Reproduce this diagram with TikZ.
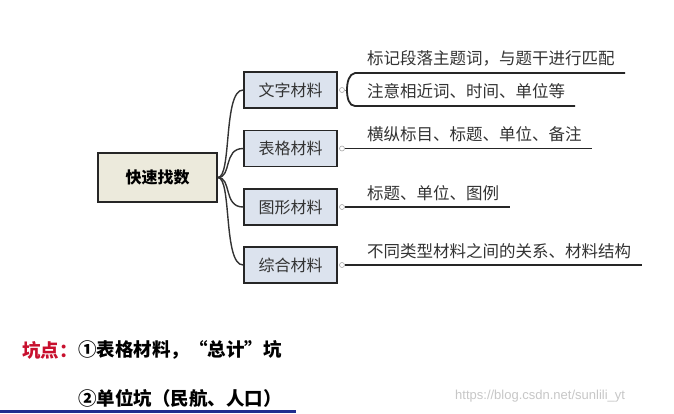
\documentclass[tikz,border=0pt]{standalone}
\usepackage{fontspec}
\setmainfont{Noto Sans CJK SC}
\newfontfamily\wmfont{Liberation Sans}
\begin{document}
\begin{tikzpicture}[x=1pt,y=-1pt,
  matbox/.style={draw=black!85,line width=1.8pt,fill=boxblue,minimum width=93pt,minimum height=36pt,inner sep=0pt,font=\fontsize{16}{18}\selectfont,text=black!80},
  rootbox/.style={draw=black!85,line width=1.8pt,fill=rootbeige,minimum width=119pt,minimum height=49pt,inner sep=0pt,font=\fontsize{16}{18}\selectfont\bfseries},
  leaf/.style={anchor=west,inner sep=0pt,font=\fontsize{16.5}{18}\selectfont,text=black!80},
  branch/.style={line width=1.4pt,draw=black!80},
  uline/.style={line width=1.8pt,draw=black!85},
  dot/.style={circle,draw=black!35,fill=white,line width=0.6pt,minimum size=5pt,inner sep=0pt},
  note/.style={anchor=west,inner sep=0pt,font=\fontsize{18.5}{20}\selectfont\bfseries}
]
\definecolor{boxblue}{HTML}{DCE3EE}
\definecolor{rootbeige}{HTML}{ECEADC}
\definecolor{pitred}{HTML}{C8102E}
\definecolor{slideblue}{HTML}{1F2F8F}
\useasboundingbox (0,0) rectangle (674,413);
\fill[white] (0,0) rectangle (674,413);

% root
\node[rootbox] (root) at (157.5,177.5) {快速找数};

% material boxes
\node[matbox] (m1) at (290.5,90) {文字材料};
\node[matbox] (m2) at (290.5,148.5) {表格材料};
\node[matbox] (m3) at (290.5,207) {图形材料};
\node[matbox] (m4) at (290.5,265) {综合材料};

% branches
\foreach \m in {m1,m2,m3,m4}{
  \draw[branch] (root.east) .. controls ([xshift=14pt]root.east) and ([xshift=-20pt]\m.west) .. (\m.west);
}

% dots
\node[dot] (d1) at (342,90) {};
\node[dot] (d2) at (342,148.5) {};
\node[dot] (d3) at (342,207) {};
\node[dot] (d4) at (342,265) {};

% leaf texts
\node[leaf] (t1a) at (367,58) {标记段落主题词，与题干进行匹配};
\node[leaf] (t1b) at (367,91) {注意相近词、时间、单位等};
\node[leaf] (t2) at (367,134) {横纵标目、标题、单位、备注};
\node[leaf] (t3) at (367,193) {标题、单位、图例};
\node[leaf] (t4) at (367,251) {不同类型材料之间的关系、材料结构};

% line end coordinates
\coordinate (b1) at (347,90);
\coordinate (e1a) at (625,73);
\coordinate (e1b) at (575,106);
\coordinate (e2) at (592,148.5);
\coordinate (e3) at (510,207);
\coordinate (e4) at (642,265);

% connectors to leaves
\draw[line width=0.8pt,black!50] (d1.east) -- (b1);
\draw[uline] (e1a) -- (355,73) .. controls (349,74) and (347,82) .. (b1) .. controls (347,98) and (349,106) .. (355,106) -- (e1b);
\draw[uline] (d2.east) -- (e2);
\draw[uline] (d3.east) -- (e3);
\draw[uline] (d4.east) -- (e4);

% notes
\node[note,text=pitred] (pit) at (22,350) {坑点：};
\node[note] (n1) at (78,350) {①表格材料，“总计”坑};
\node[note] (n2) at (78,398) {②单位坑（民航、人口）};

% watermark
\node[anchor=west,inner sep=0pt,font=\wmfont\fontsize{13}{14}\selectfont,text=black!22] (wm) at (455,396) {https://blog.csdn.net/sunlili\_yt};

% slide bottom bar
\fill[slideblue] (0,410) rectangle (296,413);
\end{tikzpicture}
\end{document}
